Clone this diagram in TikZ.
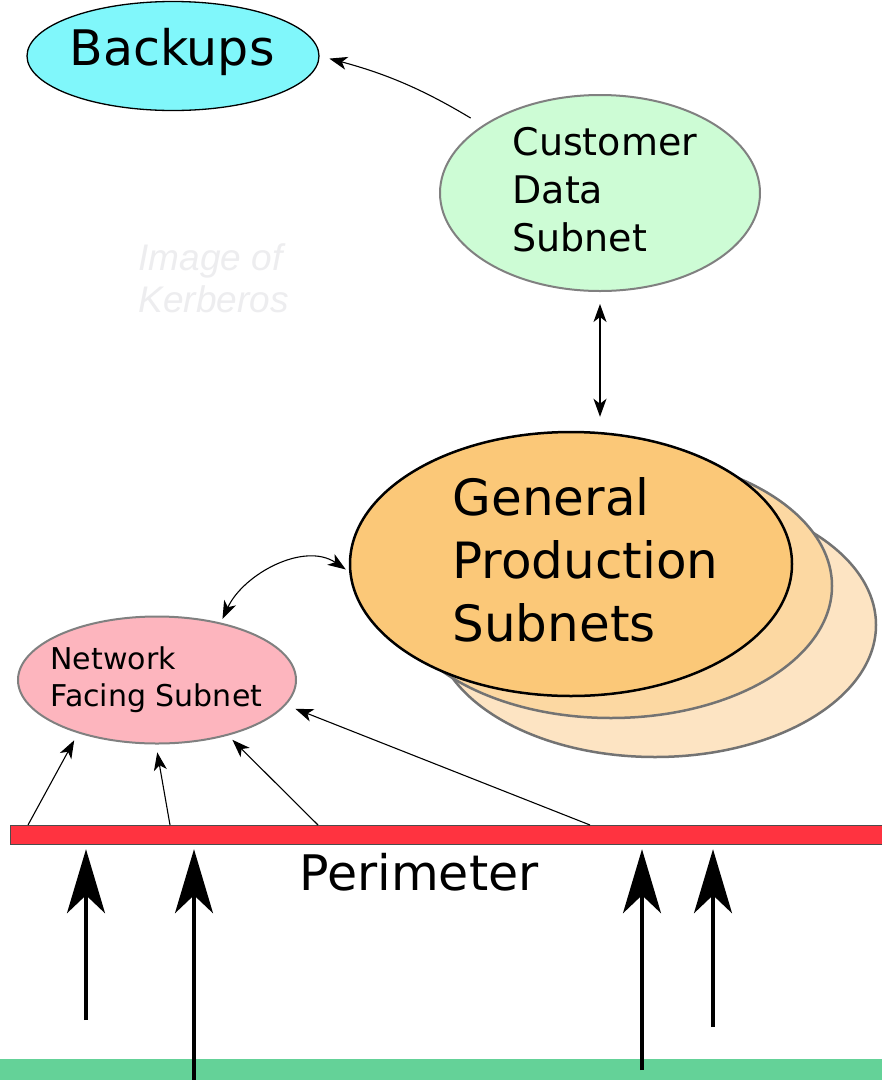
\documentclass[tikz,border=0pt]{standalone}
\usepackage{fontspec}
\setmainfont{DejaVu Sans}
\newfontfamily\markfont{Liberation Sans}
\usetikzlibrary{shapes.geometric,arrows.meta}

\definecolor{backupcyan}{HTML}{80F7FB}
\definecolor{custgreen}{HTML}{CDFCD5}
\definecolor{genfront}{HTML}{FBC878}
\definecolor{genmid}{HTML}{FCD8A2}
\definecolor{genback}{HTML}{FDE4C3}
\definecolor{netpink}{HTML}{FDB5BE}
\definecolor{perimred}{HTML}{FF3340}
\definecolor{groundgreen}{HTML}{64D298}
\definecolor{markgray}{HTML}{EDEDEF}

\tikzset{
  zone/.style={ellipse, draw=black!50, line width=2pt, inner sep=0pt},
  genzone/.style={zone, line width=2.5pt, draw=black!55,
    minimum width=442pt, minimum height=264pt},
  thinarrow/.style={-{Stealth[length=18pt,width=13pt,inset=5pt]}, line width=1.1pt},
  twoway/.style={{Stealth[length=18pt,width=13pt,inset=5pt]}-{Stealth[length=18pt,width=13pt,inset=5pt]},
    line width=1.1pt},
  bigarrow/.style={-{Stealth[length=64pt,width=38pt,inset=18pt]}, line width=3.5pt},
}

\begin{document}
\begin{tikzpicture}[x=1pt,y=1pt]
  \useasboundingbox[fill=white] (0,0) rectangle (882,-1080);

  % zones
  \node[zone, draw=black, line width=1.3pt, fill=backupcyan,
        minimum width=292pt, minimum height=109pt] (backups) at (173,-56) {};
  \node[zone, fill=custgreen, minimum width=320pt, minimum height=196pt] (cust) at (600,-193) {};
  \node[genzone, fill=genback] (gen3) at (655,-625) {};
  \node[genzone, fill=genmid] (gen2) at (611,-586) {};
  \node[genzone, fill=genfront, draw=black] (gen) at (571,-564) {};
  \node[zone, fill=netpink, minimum width=278pt, minimum height=127pt] (net) at (157,-680) {};

  % labels
  \node[anchor=base, font=\fontsize{49}{59}\selectfont] (backupslbl) at (172,-65) {Backups};
  \node[anchor=west, align=left, font=\fontsize{38}{48}\selectfont] (custlbl) at (509,-190)
      {Customer\\Data\\Subnet};
  \node[anchor=west, align=left, font=\fontsize{50}{63}\selectfont] (genlbl) at (449,-560)
      {General\\Production\\Subnets};
  \node[anchor=west, align=left, font=\fontsize{30}{37}\selectfont] (netlbl) at (47,-680)
      {Network\\Facing Subnet};
  \node[anchor=west, align=left, text=markgray, font=\markfont\itshape\fontsize{37}{42}\selectfont]
      (kerberos) at (135,-278) {Image of\\Kerberos};

  % perimeter and outside
  \node[draw=black!70, fill=perimred, line width=1.2pt, inner sep=0pt, anchor=north west,
        minimum width=880pt, minimum height=19pt] (perim) at (10,-825) {};
  \node[anchor=base, font=\fontsize{49}{59}\selectfont] (perimlbl) at (419,-890) {Perimeter};
  \node[fill=groundgreen, inner sep=0pt, anchor=south west,
        minimum width=882pt, minimum height=21pt] (ground) at (0,-1080) {};

  % links between zones
  \draw[thinarrow, shorten <=14pt, shorten >=10pt] (cust.150) to[out=149,in=-15] (backups.east);
  \draw[twoway, shorten <=12pt, shorten >=14pt] (cust.south) -- (cust.south |- gen.north);
  \draw[twoway, shorten <=4pt, shorten >=4pt] (net.42) to[out=65,in=146] (gen.182);

  \foreach \px/\ang/\gap [count=\i] in {28/214/8, 170/269/8, 318/322/6, 590/349/10}
  {
    \coordinate (in\i) at (\px,0 |- perim.north);
    \draw[thinarrow, shorten >=\gap pt] (in\i) -- (net.\ang);
  }

  \foreach \px/\py [count=\i] in {86/1020, 194/1080, 642/1070, 713/1027}
  {
    \coordinate (src\i) at (\px,-\py);
    \draw[bigarrow, shorten >=4pt] (src\i) -- (src\i |- perim.south);
  }
\end{tikzpicture}
\end{document}
